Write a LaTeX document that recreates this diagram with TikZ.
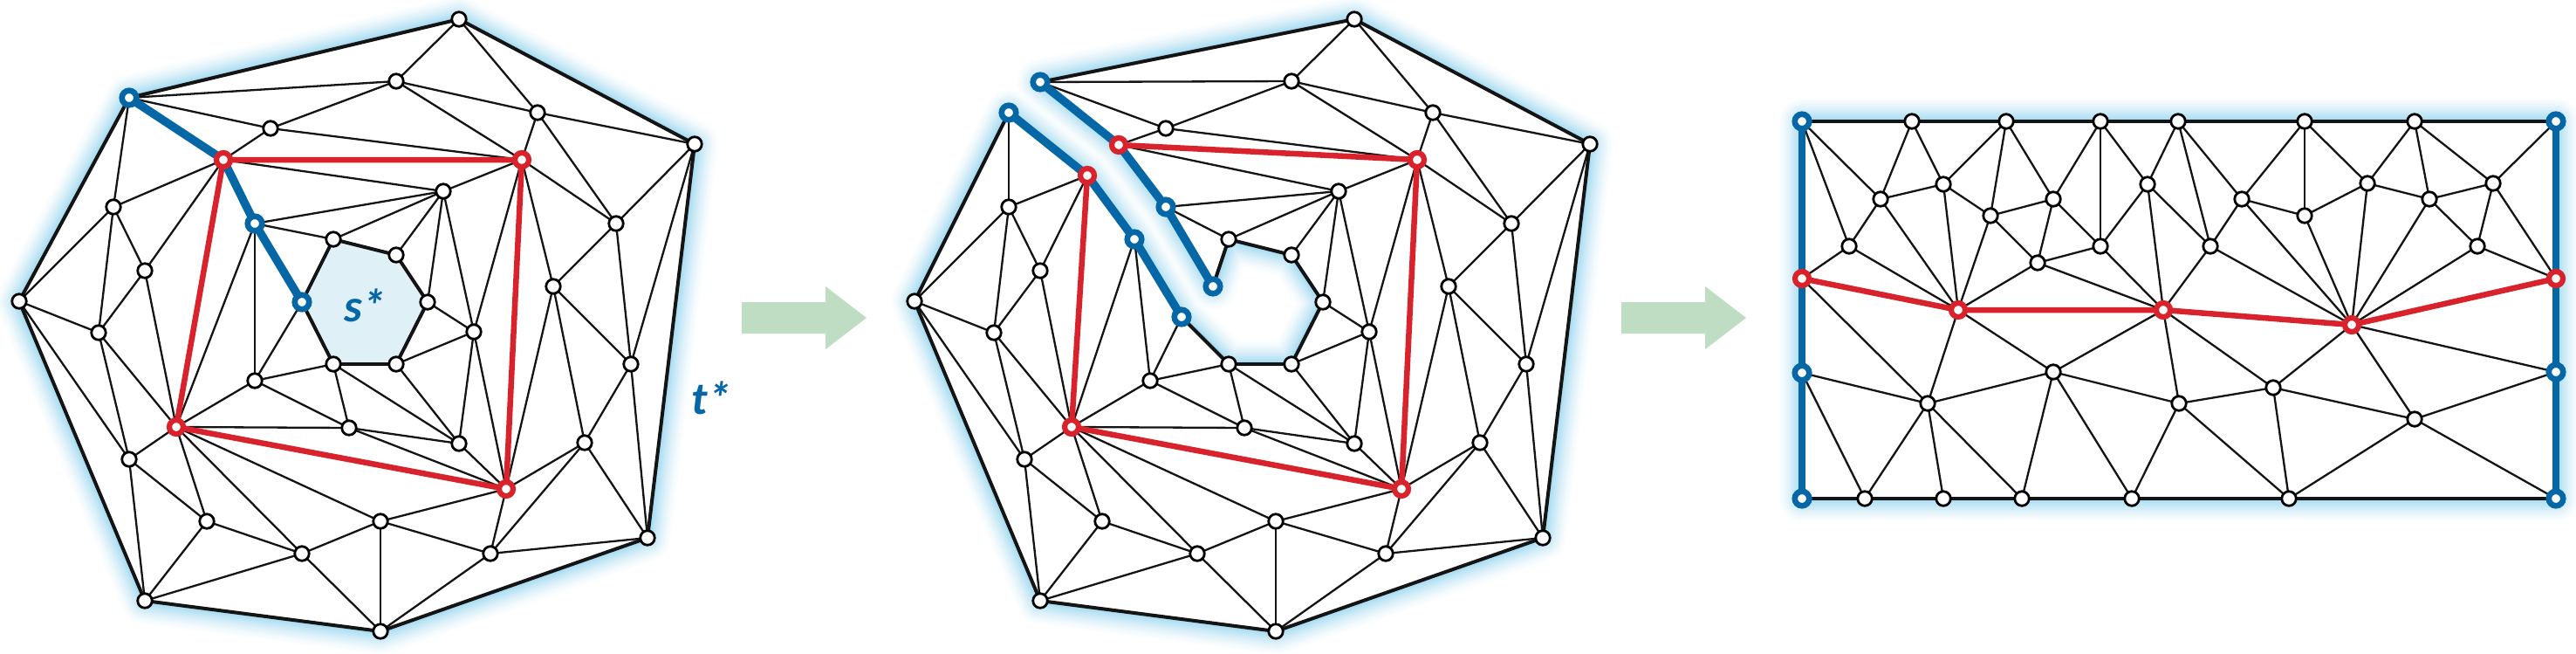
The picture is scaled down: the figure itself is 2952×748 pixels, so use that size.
\documentclass[tikz,border=0pt]{standalone}
\usepackage{fontspec}
\newfontfamily\labfont{Carlito}
\definecolor{myblue}{RGB}{6,103,166}
\definecolor{myred}{RGB}{216,35,44}
\definecolor{glowc}{RGB}{120,200,234}
\definecolor{hexfill}{RGB}{223,240,246}
\definecolor{arrowc}{RGB}{190,221,194}
\newcommand\glowit[1]{%
  \foreach \k in {1,...,16}{%
    \pgfmathsetmacro\lw{0.62-0.037*\k}%
    \pgfmathtruncatemacro\cc{(\k/16)^1.6*70}%
    \draw[line width=\lw cm, draw=glowc!\cc, line join=round] #1;%
  }}
\tikzset{
  vtx/.style={circle, inner sep=0pt, minimum size=0.165cm, fill=white, draw=black, line width=0.028cm},
  rvtx/.style={vtx, draw=myred, line width=0.062cm, minimum size=0.16cm},
  bvtx/.style={vtx, draw=myblue, line width=0.066cm, minimum size=0.165cm},
  thinedge/.style={line width=0.023cm, draw=black!92},
  bound/.style={line width=0.04cm, draw=black!92, line join=round},
  redp/.style={line width=0.065cm, draw=myred},
  bluep/.style={line width=0.095cm, draw=myblue, line cap=round, line join=round},
  bluep3/.style={line width=0.078cm, draw=myblue},
  lab/.style={text=myblue, font=\labfont\fontsize{15}{17}\selectfont\bfseries\itshape, inner sep=0pt},
}
\def\PonePts{a/148/112, b/526/22, c/796/165, d/742/616, e/436/723, f/166/688, g/22/345,
  h/310/147, R1/256/183, i/130/237, B2/292/256, j/382/274, k/166/310, B3/346/346, l/113/381,
  m/454/93, n/616/129, R2/598/183, o/508/219, p/706/256, q/454/292, r/634/328, s/490/346,
  t/543/380, u/382/417, v/454/417, w/292/436, R3/202/489, x/400/490, y/526/508, z/723/417,
  aa/670/507, R4/580/560, bb/148/526, cc/237/597, dd/346/634, ee/436/597, ff/562/634}
\def\BlackNodes{b,c,d,e,f,g,h,i,j,k,l,m,n,o,p,q,r,s,t,u,v,w,x,y,z,aa,bb,cc,dd,ee,ff}
\def\CommonThin{h/m, h/R2, i/g, i/l, i/k, k/l, g/l, g/bb, j/o, m/b, m/n, m/R2, n/b, n/c, n/R2, n/p,
  R2/o, R2/p, R2/r, R2/t, o/q, o/s, o/t, p/c, p/r, p/z, c/z, r/z, r/aa, r/R4, z/aa, z/d,
  aa/R4, aa/ff, aa/d, t/R4, t/y, t/v, t/s, u/y, u/x, u/w, x/y, x/R4, x/R3, x/w, y/R4, v/y,
  k/R3, l/bb, l/R3, bb/R3, bb/cc, bb/f, R3/w, R3/cc, R3/dd, R3/ee, cc/dd, cc/f, dd/f, dd/e,
  dd/ee, ee/R4, ee/ff, ee/e, ff/e, ff/R4, ff/d}
\def\CommonBound{b/c, c/d, d/e, e/f, f/g, j/q, q/s, s/v, v/u}
\def\PthreePts{TL/2065/139, T1/2191/139, T2/2299/139, T3/2407/139, T4/2496/139, T5/2641/139,
  T6/2767/139, TR/2929/139, Lr/2065/319, Lb/2065/427, BL/2065/571, B1/2137/571, B2/2227/571,
  B3/2317/571, B4/2443/571, B5/2623/571, BR/2929/571, Rr/2929/319, Rb/2929/426,
  A/2119/282, B/2155/228, C/2227/211, D/2281/247, E/2353/228, F/2407/282, G/2335/301,
  H/2461/211, R5/2244/355, R6/2479/355, I/2353/426, J/2209/462, K/2497/462, L/2569/228,
  M/2533/282, N/2641/247, O/2713/210, P/2784/228, Q/2857/210, S/2839/282, R7/2695/372,
  T/2605/444, U/2767/480}
\def\PthreeThin{TL/B, TL/A, T1/B, T1/C, T2/C, T2/D, T2/E, T3/E, T3/F, T3/H, T4/H, T4/M, T4/L,
  B/C, B/A, B/R5, C/D, C/R5, D/E, D/R5, D/G, E/G, E/F, F/G, F/R6, F/H, H/R6, H/M, G/R5, G/R6,
  A/Lr, A/R5, Lr/J, R5/J, R5/I, R6/I, R6/K, R6/M, R6/T, Lb/J, Lb/B1, J/B1, J/B2, J/B3, J/I,
  I/B3, I/B4, I/K, K/B4, K/T, K/B5, L/M, L/T5, L/N, L/R7, M/R7, T5/N, T5/O, N/O, N/R7, O/P,
  O/R7, O/T6, T6/P, T6/Q, P/Q, P/S, P/R7, Q/S, Q/TR, Q/Rr, S/Rr, S/R7, R7/Rb, R7/U, R7/T,
  T/U, T/B5, U/Rb, U/BR, U/B5}
\def\PthreeBlack{T1,T2,T3,T4,T5,T6,B1,B2,B3,B4,B5,A,B,C,D,E,F,G,H,I,J,K,L,M,N,O,P,Q,S,T,U}
\begin{document}
\begin{tikzpicture}[x=0.01cm, y=-0.01cm]
\useasboundingbox (0,0) rectangle (2952,748);
% ---------- coordinates ----------
\foreach \n/\x/\y in \PonePts {
  \coordinate (p\n) at (\x,\y);
  \coordinate (q\n) at (\x+1026,\y);
}
\coordinate (qa1) at (1192,94);
\coordinate (qa2) at (1156,129);
\coordinate (qR1a) at (1282,166);
\coordinate (qR1b) at (1246,201);
\coordinate (qB2a) at (1336,237);
\coordinate (qB2b) at (1300,274);
\coordinate (qB3a) at (1390,328);
\coordinate (qB3b) at (1354,363);
\foreach \n/\x/\y in \PthreePts { \coordinate (t\n) at (\x,\y); }
% ---------- glow ----------
\glowit{(pa)--(pb)--(pc)--(pd)--(pe)--(pf)--(pg)--cycle}
\glowit{(qa1)--(qb)--(qc)--(qd)--(qe)--(qf)--(qg)--(qa2)--(qR1b)--(qB2b)--(qB3b)--(qu)--(qv)--(qs)--(qq)--(qj)--(qB3a)--(qB2a)--(qR1a)--cycle}
\glowit{(tTL)--(tTR)--(tBR)--(tBL)--cycle}
\fill[white] (pa)--(pb)--(pc)--(pd)--(pe)--(pf)--(pg)--cycle;
\fill[white] (qa1)--(qb)--(qc)--(qd)--(qe)--(qf)--(qg)--(qa2)--(qR1b)--(qB2b)--(qB3b)--(qu)--(qv)--(qs)--(qq)--(qj)--(qB3a)--(qB2a)--(qR1a)--cycle;
\fill[white] (tTL)--(tTR)--(tBR)--(tBL)--cycle;
\fill[hexfill] (pB3)--(pj)--(pq)--(ps)--(pv)--(pu)--cycle;
% ---------- arrows ----------
\fill[arrowc] (850,346)--(946,346)--(946,328)--(993,364)--(946,400)--(946,382)--(850,382)--cycle;
\fill[arrowc] (1858,346)--(1954,346)--(1954,328)--(2001,364)--(1954,400)--(1954,382)--(1858,382)--cycle;
% ---------- panel 1 & 2 edges ----------
\foreach \u/\v in \CommonThin {
  \draw[thinedge] (p\u)--(p\v);
  \draw[thinedge] (q\u)--(q\v);
}
\foreach \u/\v in {a/m, a/h, a/i, h/R1, R1/o, R1/i, R1/k, B2/o, B2/j, B2/w, B2/R3, B3/w}
  \draw[thinedge] (p\u)--(p\v);
\foreach \u/\v in {a1/m, a1/h, a2/i, h/R1a, R1a/o, R1b/i, R1b/k, B2a/o, B2a/j, B2b/w, B2b/R3, B3b/w}
  \draw[thinedge] (q\u)--(q\v);
\foreach \u/\v in \CommonBound {
  \draw[bound] (p\u)--(p\v);
  \draw[bound] (q\u)--(q\v);
}
\foreach \u/\v in {a/b, g/a, u/B3, B3/j} \draw[bound] (p\u)--(p\v);
\foreach \u/\v in {a1/b, g/a2, B3b/u, B3a/j} \draw[bound] (q\u)--(q\v);
\draw[redp] (pR1)--(pR2)--(pR4)--(pR3)--cycle;
\draw[redp] (qR1a)--(qR2)--(qR4)--(qR3)--(qR1b);
\draw[bluep] (pa)--(pR1)--(pB2)--(pB3);
\draw[bluep] (qa1)--(qR1a)--(qB2a)--(qB3a);
\draw[bluep] (qa2)--(qR1b)--(qB2b)--(qB3b);
% ---------- panel 3 edges ----------
\foreach \u/\v in \PthreeThin \draw[thinedge] (t\u)--(t\v);
\draw[bound] (tTL)--(tT1)--(tT2)--(tT3)--(tT4)--(tT5)--(tT6)--(tTR);
\draw[bound] (tBL)--(tB1)--(tB2)--(tB3)--(tB4)--(tB5)--(tBR);
\draw[bluep3] (tTL)--(tLr)--(tLb)--(tBL);
\draw[bluep3] (tTR)--(tRr)--(tRb)--(tBR);
\draw[redp] (tLr)--(tR5)--(tR6)--(tR7)--(tRr);
% ---------- vertices ----------
\foreach \n in \BlackNodes {
  \node[vtx] (P1\n) at (p\n) {};
  \node[vtx] (P2\n) at (q\n) {};
}
\foreach \n in {a, B2, B3} \node[bvtx] (P1\n) at (p\n) {};
\foreach \n in {R1, R2, R3, R4} \node[rvtx] (P1\n) at (p\n) {};
\foreach \n in {a1, a2, B2a, B2b, B3a, B3b} \node[bvtx] (P2\n) at (q\n) {};
\foreach \n in {R1a, R1b, R2, R3, R4} \node[rvtx] (P2\n) at (q\n) {};
\foreach \n in \PthreeBlack \node[vtx] (P3\n) at (t\n) {};
\foreach \n in {TL, Lb, BL, TR, Rb, BR} \node[bvtx] (P3\n) at (t\n) {};
\foreach \n in {Lr, Rr, R5, R6, R7} \node[rvtx] (P3\n) at (t\n) {};
% ---------- labels ----------
\node[lab] (sstar) at (418,350) {s*};
\node[lab] (tstar) at (815,456) {t*};
\end{tikzpicture}
\end{document}
